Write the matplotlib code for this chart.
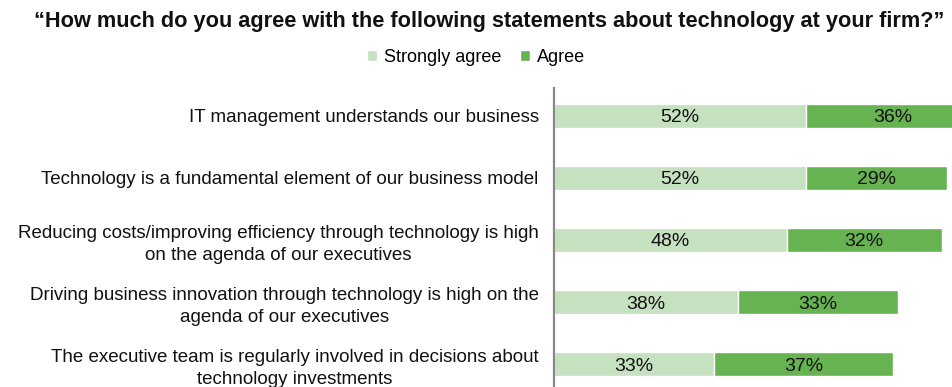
import matplotlib
matplotlib.use("Agg")
import matplotlib.pyplot as plt

categories = [
    "IT management understands our business",
    "Technology is a fundamental element of our business model",
    "Reducing costs/improving efficiency through technology is high\non the agenda of our executives",
    "Driving business innovation through technology is high on the\nagenda of our executives",
    "The executive team is regularly involved in decisions about\ntechnology investments",
]
strongly_agree = [52, 52, 48, 38, 33]
agree = [36, 29, 32, 33, 37]
series_names = ["Strongly agree", "Agree"]
title = "\u201cHow much do you agree with the following statements about technology at your firm?\u201d"

light = "#C5E1C0"
dark = "#67B351"

W, H = 953, 387
fig = plt.figure(figsize=(W / 100, H / 100), dpi=100)
plt.rcParams["font.family"] = ["Liberation Sans", "DejaVu Sans"]

# axes: left edge at the grey line, runs off the right and bottom of the picture
ax = fig.add_axes([554 / W, 0, 1 - 554 / W, 1 - 88 / H])
ax.set_xlim(0, (W - 554) / 4.846)
ax.set_ylim(4.37, -0.45)

pos = list(range(len(categories)))
ax.barh(pos, strongly_agree, height=0.39, color=light, edgecolor="white", linewidth=1, label=series_names[0])
ax.barh(pos, agree, left=strongly_agree, height=0.39, color=dark, edgecolor="white", linewidth=1, label=series_names[1])

for i in pos:
    ax.text(strongly_agree[i] / 2, i, f"{strongly_agree[i]}%", ha="center", va="center_baseline", fontsize=14, color="#111111")
    ax.text(strongly_agree[i] + agree[i] / 2, i, f"{agree[i]}%", ha="center", va="center_baseline", fontsize=14, color="#111111", clip_on=False)

ax.set_yticks(pos)
ax.set_yticklabels(categories, fontsize=13.5, color="#111111")
for lab in ax.get_yticklabels():
    lab.set_multialignment("center")
    lab.set_linespacing(1.4)
ax.tick_params(axis="y", length=0, pad=11)
ax.set_xticks([])
for s in ["top", "right", "bottom"]:
    ax.spines[s].set_visible(False)
ax.spines["left"].set_color("#888888")
ax.spines["left"].set_linewidth(1.6)

t = fig.text(489 / W, 1 - 22 / H, title, ha="center", va="center", fontsize=17, fontweight="bold", color="#111111")
# shrink the title until it spans the same width as in the reference
renderer = fig.canvas.get_renderer()
size = 17.0
while t.get_window_extent(renderer).width > 918 and size > 8:
    size -= 0.1
    t.set_fontsize(size)

handles, labels = ax.get_legend_handles_labels()
fig.legend(handles, labels, loc="center", bbox_to_anchor=(476 / W, 1 - 57 / H), ncol=2, frameon=False,
           handlelength=0.55, handleheight=0.55, handletextpad=0.4, columnspacing=1.0,
           prop={"size": 13})

fig.savefig("out.png", dpi=100)
